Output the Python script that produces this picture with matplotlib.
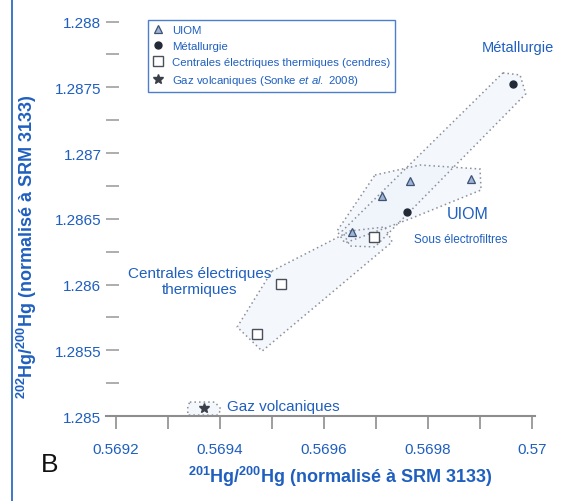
import numpy as np
import matplotlib
matplotlib.use("Agg")
import matplotlib.pyplot as plt
from matplotlib.ticker import MultipleLocator, FuncFormatter

plt.rcParams['font.family'] = ['Liberation Sans', 'DejaVu Sans']
plt.rcParams['mathtext.fontset'] = 'custom'
plt.rcParams['mathtext.it'] = 'Liberation Sans:italic'
plt.rcParams['mathtext.rm'] = 'Liberation Sans'
plt.rcParams['mathtext.bf'] = 'Liberation Sans:bold'

BLUE = '#1f5fbf'

# points
uiom_x = [0.569654, 0.569712, 0.569765, 0.569883]
uiom_y = [1.286400, 1.286674, 1.286788, 1.286803]
metal_x = [0.569760, 0.569963]
metal_y = [1.286552, 1.287526]
centrales_x = [0.569471, 0.569517, 0.569696]
centrales_y = [1.285623, 1.286004, 1.286362]
gaz_x = [0.569369]
gaz_y = [1.285060]

# dotted envelopes round each group
metal_env_x = [0.569944, 0.569977, 0.569988, 0.569698, 0.569650, 0.569635]
metal_env_y = [1.287610, 1.287594, 1.287450, 1.286286, 1.286293, 1.286407]
uiom_env_x = [0.569698, 0.569785, 0.569900, 0.569902, 0.569765, 0.569640, 0.569625]
uiom_env_y = [1.286833, 1.286909, 1.286879, 1.286719, 1.286499, 1.286316, 1.286407]
centrales_env_x = [0.569500, 0.569650, 0.569717, 0.569731, 0.569481, 0.569433]
centrales_env_y = [1.286103, 1.286407, 1.286438, 1.286324, 1.285494, 1.285677]
gaz_env_x = [0.569342, 0.569390, 0.569402, 0.569396, 0.569338, 0.569338]
gaz_env_y = [1.285106, 1.285106, 1.285052, 1.285007, 1.285007, 1.285075]

fig = plt.figure(figsize=(5.63, 5.02), dpi=100)
ax = fig.add_axes([0.1876, 0.1693, 0.762, 0.7988])
ax.set_xlim(0.56918, 0.570005)
ax.set_ylim(1.285, 1.28805)

for ex, ey in [(centrales_env_x, centrales_env_y), (uiom_env_x, uiom_env_y),
               (metal_env_x, metal_env_y), (gaz_env_x, gaz_env_y)]:
    ax.fill(ex, ey, facecolor='#eef3fb', alpha=0.6, edgecolor='none', zorder=1)
    ax.fill(ex, ey, facecolor='none', edgecolor='#8a8f99', linestyle=(0, (1, 2)),
            linewidth=1.1, zorder=2)

h1, = ax.plot(uiom_x, uiom_y, ls='none', marker='^', ms=6, mfc='#9fb3d3', mec='#3d5275', mew=0.9, zorder=4)
h2, = ax.plot(metal_x, metal_y, ls='none', marker='o', ms=5, mfc='#222a38', mec='#222a38', zorder=4)
h3, = ax.plot(centrales_x, centrales_y, ls='none', marker='s', ms=6.5, mfc='white', mec='#4a4f5a', mew=1, zorder=4)
h4, = ax.plot(gaz_x, gaz_y, ls='none', marker='*', ms=7, mfc='#3a3f48', mec='#3a3f48', zorder=4)

leg = ax.legend([h1, h2, h3, h4],
                ['UIOM', 'Métallurgie', 'Centrales électriques thermiques (cendres)',
                 r'Gaz volcaniques (Sonke $\mathit{et\ al.}$ 2008)'],
                loc='upper left', bbox_to_anchor=(148 / 563, 1 - 21 / 502),
                bbox_transform=fig.transFigure, fontsize=8.2, frameon=True,
                fancybox=False, edgecolor=BLUE, handlelength=1.0, handletextpad=0.7,
                labelspacing=0.55, borderpad=0.4, borderaxespad=0)
leg.get_frame().set_linewidth(1.0)
for t in leg.get_texts():
    t.set_color(BLUE)

ax.text(0.569973, 1.287807, 'Métallurgie', color=BLUE, fontsize=10.5, ha='center', va='center')
ax.text(0.569877, 1.286537, 'UIOM', color=BLUE, fontsize=11.5, ha='center', va='center')
ax.text(0.569862, 1.286346, 'Sous électrofiltres', color=BLUE, fontsize=8.5, ha='center', va='center')
ax.text(0.569360, 1.286027, 'Centrales électriques\nthermiques', color=BLUE, fontsize=11,
        ha='center', va='center', linespacing=1.1)
ax.text(0.569413, 1.285075, 'Gaz volcaniques', color=BLUE, fontsize=11, ha='left', va='center')

for s in ['top', 'right', 'left']:
    ax.spines[s].set_visible(False)
ax.spines['bottom'].set_color('#8d8d8d')
ax.spines['bottom'].set_linewidth(1.5)

ax.xaxis.set_major_locator(MultipleLocator(0.0002))
ax.xaxis.set_minor_locator(MultipleLocator(0.0001))
ax.yaxis.set_major_locator(MultipleLocator(0.0005))
ax.yaxis.set_minor_locator(MultipleLocator(0.00025))
ax.xaxis.set_major_formatter(FuncFormatter(lambda v, p: ('%.4f' % v).rstrip('0')))
ax.yaxis.set_major_formatter(FuncFormatter(lambda v, p: ('%.4f' % v).rstrip('0')))
ax.tick_params(axis='x', which='both', direction='out', length=9, width=1.2, color='#8d8d8d',
               pad=10, labelsize=11, labelcolor=BLUE)
ax.tick_params(axis='y', which='both', direction='in', length=9, width=1.2, color='#a0a0a0',
               pad=3, labelsize=11, labelcolor=BLUE)

fig.text(340 / 563, 1 - 477 / 502, r'$\mathbf{^{201}}$Hg/$\mathbf{^{200}}$Hg (normalisé à SRM 3133)',
         color=BLUE, fontsize=13, fontweight='bold',
         ha='center', va='center')
fig.text(27 / 563, 1 - 247 / 502, r'$\mathbf{^{202}}$Hg/$\mathbf{^{200}}$Hg (normalisé à SRM 3133)',
         color=BLUE, fontsize=13, fontweight='bold',
         ha='center', va='center', rotation=90)

fig.text(50 / 563, 1 - 465 / 502, 'B', color='#111111', fontsize=19, ha='center', va='center')
fig.add_artist(plt.Line2D([12 / 563, 12 / 563], [0, 1], transform=fig.transFigure,
                          color=BLUE, linewidth=1.2))

fig.savefig('out.png', dpi=100)
